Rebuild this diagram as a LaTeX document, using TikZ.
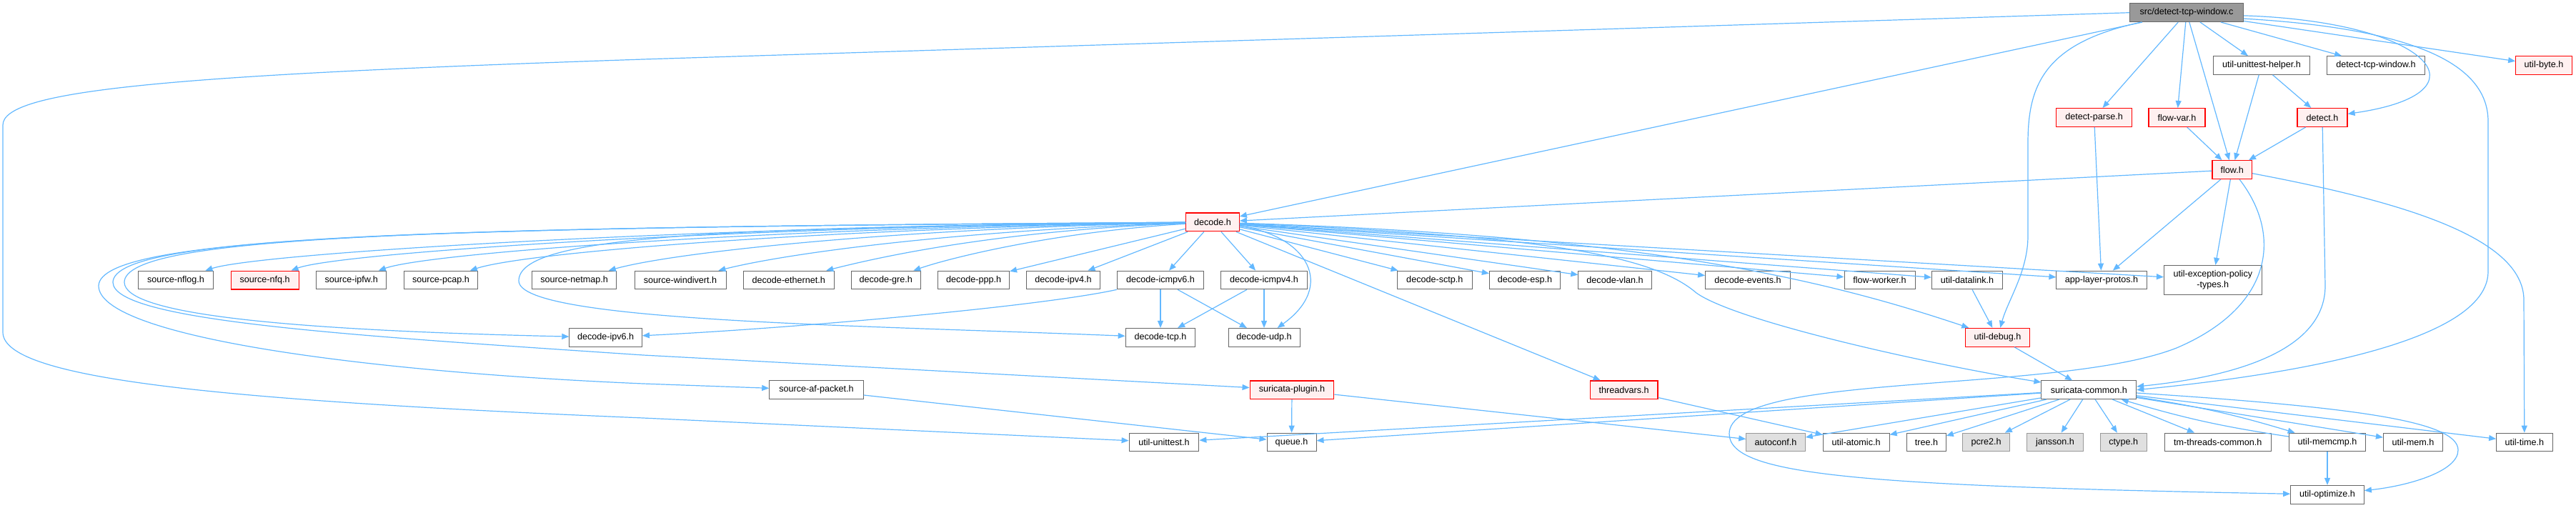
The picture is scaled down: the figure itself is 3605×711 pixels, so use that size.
\documentclass[tikz,border=0pt]{standalone}
\usepackage{fontspec}
\setmainfont{Liberation Sans}
\usetikzlibrary{arrows.meta}
\definecolor{edgeblue}{HTML}{63B8FF}
\definecolor{boxgray}{HTML}{666666}
\definecolor{sysgray}{HTML}{999999}
\definecolor{sysfill}{HTML}{E0E0E0}
\definecolor{redfill}{HTML}{FFF0F0}
\definecolor{rootfill}{HTML}{999999}
\begin{document}
\begin{tikzpicture}[x=0.5pt,y=-0.5pt,
    font=\fontsize{6.3}{7.5}\selectfont,
    hdr/.style={draw=boxgray,fill=white,line width=0.5pt,minimum height=12.85pt,inner xsep=1pt,inner ysep=0pt},
    redh/.style={hdr,draw=red,fill=redfill,line width=0.65pt},
    sysh/.style={hdr,draw=sysgray,fill=sysfill},
    bw/.style={minimum width=#1*0.5pt},
    dep/.style={draw=edgeblue,line width=0.6pt,-{Triangle[length=5pt,width=4pt]}}]
        \useasboundingbox (0,0) rectangle (3605,711);

        % top part
        \node[hdr,fill=rootfill,bw=158.7] (srcwin) at (3060,17.7) {src/detect-tcp-window.c};
        \node[hdr,bw=134.4] (uthelper) at (3165,91.5) {util-unittest-helper.h};
        \node[hdr,bw=137.4] (dtwin) at (3325,91.5) {detect-tcp-window.h};
        \node[redh,bw=78.5] (ubyte) at (3560,91.5) {util-byte.h};
        \node[redh,bw=105.6] (dparse) at (2930.6,164.5) {detect-parse.h};
        \node[redh,bw=79] (flowvar) at (3046.5,164.5) {flow-var.h};
        \node[redh,bw=69.8] (detect) at (3250,164.5) {detect.h};
        \node[redh,bw=55.3] (flow) at (3123.7,237.7) {flow.h};
        \node[redh,bw=74.5] (decode) at (1697,311) {decode.h};

        % row of headers below decode.h
        \node[hdr,bw=104.5] (nflog) at (246,392) {source-nflog.h};
        \node[redh,bw=95] (nfq) at (370.7,392) {source-nfq.h};
        \node[hdr,bw=98.2] (ipfw) at (491.7,392) {source-ipfw.h};
        \node[hdr,bw=103.4] (pcap) at (617,392) {source-pcap.h};
        \node[hdr,bw=118.3] (netmap) at (803.7,392) {source-netmap.h};
        \node[hdr,bw=128] (windivert) at (952,392) {source-windivert.h};
        \node[hdr,bw=126.4] (ether) at (1103.8,392) {decode-ethernet.h};
        \node[hdr,bw=97.6] (gre) at (1239.8,392) {decode-gre.h};
        \node[hdr,bw=99.9] (ppp) at (1362.6,392) {decode-ppp.h};
        \node[hdr,bw=102.8] (ipv4) at (1488,392) {decode-ipv4.h};
        \node[hdr,bw=121.7] (icmpv6) at (1624,392) {decode-icmpv6.h};
        \node[hdr,bw=121.7] (icmpv4) at (1769,392) {decode-icmpv4.h};
        \node[hdr,bw=104.4] (sctp) at (2007.8,392) {decode-sctp.h};
        \node[hdr,bw=99.3] (esp) at (2134,392) {decode-esp.h};
        \node[hdr,bw=102.3] (vlan) at (2260,392) {decode-vlan.h};
        \node[hdr,bw=118.8] (events) at (2446,392) {decode-events.h};
        \node[hdr,bw=99] (fworker) at (2630.5,392) {flow-worker.h};
        \node[hdr,bw=99.2] (datalink) at (2753,392) {util-datalink.h};
        \node[hdr,bw=126.2] (alproto) at (2941,392) {app-layer-protos.h};
        \node[hdr,bw=136.8,minimum height=20.35pt,align=center] (excpol) at (3096.8,391.7) {util-exception-policy\\-types.h};

        \node[hdr,bw=101.6] (ipv6) at (847.6,472.3) {decode-ipv6.h};
        \node[hdr,bw=97.7] (tcp) at (1624,472.3) {decode-tcp.h};
        \node[hdr,bw=100] (udp) at (1769,472.3) {decode-udp.h};
        \node[redh,bw=89.4] (udebug) at (2795.5,472.3) {util-debug.h};

        \node[hdr,bw=131.5] (afpacket) at (1142.5,545.7) {source-af-packet.h};
        \node[redh,bw=117.6] (plugin) at (1808,545.7) {suricata-plugin.h};
        \node[redh,bw=94.6] (threadvars) at (2272.7,545.7) {threadvars.h};
        \node[hdr,bw=132.7] (scommon) at (2923.3,545.7) {suricata-common.h};

        \node[hdr,bw=97.8] (unittest) at (1629,619) {util-unittest.h};
        \node[hdr,bw=69] (queue) at (1807.5,619) {queue.h};
        \node[sysh,bw=82.5] (autoconf) at (2485,619) {autoconf.h};
        \node[hdr,bw=93] (atomic) at (2597.6,619) {util-atomic.h};
        \node[hdr,bw=54.5] (tree) at (2696,619) {tree.h};
        \node[sysh,bw=65.8] (pcre2) at (2779.6,619) {pcre2.h};
        \node[sysh,bw=78.5] (jansson) at (2876,619) {jansson.h};
        \node[sysh,bw=65] (ctype) at (2971.7,619) {ctype.h};
        \node[hdr,bw=149.5] (tmthreads) at (3103.8,619) {tm-threads-common.h};
        \node[hdr,bw=107.3] (memcmp) at (3257,619) {util-memcmp.h};
        \node[hdr,bw=83.2] (umem) at (3377,619) {util-mem.h};
        \node[hdr,bw=78.4] (utime) at (3532.8,619) {util-time.h};
        \node[hdr,bw=102.7] (optimize) at (3257,692.2) {util-optimize.h};

        % includes of the source file
        \draw[dep] (srcwin.west) -- (900,83) .. controls (250,105) and (4,125) .. (4,175) -- (4,465) .. controls (4,530) and (300,560) .. (900,585) -- (unittest);
        \draw[dep] (srcwin) -- (decode);
        \draw[dep] (srcwin) -- (dparse);
        \draw[dep] (srcwin) -- (flowvar);
        \draw[dep] (srcwin) -- (flow);
        \draw[dep] (srcwin) -- (uthelper);
        \draw[dep] (srcwin) -- (dtwin);
        \draw[dep] (srcwin) -- (ubyte);
        \draw[dep] (srcwin.-3) .. controls (3400,30) and (3490,130) .. (detect);
        \draw[dep] (srcwin.-6) .. controls (3380,40) and (3482,90) .. (3482,170) -- (3482,380) .. controls (3482,480) and (3200,525) .. (scommon.east);
        \draw[dep] (srcwin) .. controls (2860,60) and (2838,120) .. (2838,200) -- (2838,330) .. controls (2838,380) and (2810,420) .. (udebug);

        \draw[dep] (uthelper) -- (detect);
        \draw[dep] (uthelper) -- (flow);
        \draw[dep] (dparse) -- (alproto);
        \draw[dep] (flowvar) -- (flow);
        \draw[dep] (detect) -- (flow);
        \draw[dep] (detect) -- (3254,400) .. controls (3254,500) and (3100,530) .. (scommon.4);

        \draw[dep] (flow) -- (decode);
        \draw[dep] (flow) -- (alproto);
        \draw[dep] (flow) -- (excpol);
        \draw[dep] (flow) .. controls (3195,330) and (3180,430) .. (3046,487) .. controls (2880,552) and (2420,520) .. (2420,607) .. controls (2420,665) and (2600,680) .. (optimize);
        \draw[dep] (flow.-10) .. controls (3350,280) and (3532,330) .. (3532,420) -- (utime);

        % decode.h fan
        \draw[dep] (decode) .. controls (1000,316) and (367,353) .. (nflog);
        \draw[dep] (decode) .. controls (1050,316) and (477,353) .. (nfq);
        \draw[dep] (decode) .. controls (1100,318) and (603,353) .. (ipfw);
        \draw[dep] (decode) .. controls (1150,320) and (736,353) .. (pcap);
        \draw[dep] (decode) .. controls (1250,320) and (944,353) .. (netmap);
        \draw[dep] (decode) .. controls (1350,322) and (1108,353) .. (windivert);
        \draw[dep] (decode) .. controls (1420,322) and (1257,353) .. (ether);
        \draw[dep] (decode) .. controls (1480,324) and (1332,360) .. (gre);
        \foreach \t in {ppp,ipv4,icmpv6,icmpv4,sctp,esp,vlan,events,fworker,datalink,alproto,excpol,threadvars}
            \draw[dep] (decode) -- (\t);
        \draw[dep] (decode) .. controls (1830,330) and (1870,400) .. (udp);
        \draw[dep] (decode) .. controls (2300,330) and (2550,390) .. (udebug);
        \draw[dep] (decode) .. controls (2150,330) and (2310,355) .. (2374,410) .. controls (2430,450) and (2700,510) .. (scommon);
        \draw[dep] (decode) .. controls (1000,318) and (726,330) .. (726,393) .. controls (726,450) and (1200,455) .. (tcp);
        \draw[dep] (decode) .. controls (600,318) and (175,330) .. (174,395) .. controls (174,440) and (400,462) .. (ipv6);
        \draw[dep] (decode) .. controls (600,318) and (160,330) .. (158,395) .. controls (158,450) and (500,470) .. (900,497) -- (plugin);
        \draw[dep] (decode) .. controls (600,318) and (140,330) .. (138,400) .. controls (138,470) and (500,520) .. (900,537) -- (afpacket);

        \draw[dep] (icmpv6) .. controls (1450,430) and (1100,460) .. (ipv6);
        \draw[dep] (icmpv6) -- (tcp);
        \draw[dep] (icmpv6) -- (udp);
        \draw[dep] (icmpv4) -- (tcp);
        \draw[dep] (icmpv4) -- (udp);
        \draw[dep] (datalink) -- (udebug);
        \draw[dep] (udebug) -- (scommon);

        \draw[dep] (afpacket) -- (queue);
        \draw[dep] (plugin) -- (queue);
        \draw[dep] (plugin) -- (autoconf);
        \draw[dep] (threadvars) -- (atomic);

        % suricata-common.h
        \foreach \t in {unittest,queue,autoconf,atomic,tree,pcre2,jansson,ctype,tmthreads,umem,utime}
            \draw[dep] (scommon) -- (\t);
        \draw[dep] (scommon) to[bend left=4] (memcmp);
        \draw[dep] (memcmp) to[bend left=4] (scommon);
        \draw[dep] (memcmp) -- (optimize);
        \draw[dep] (scommon) .. controls (3300,570) and (3440,590) .. (3440,630) .. controls (3440,660) and (3370,680) .. (optimize);
\end{tikzpicture}
\end{document}
